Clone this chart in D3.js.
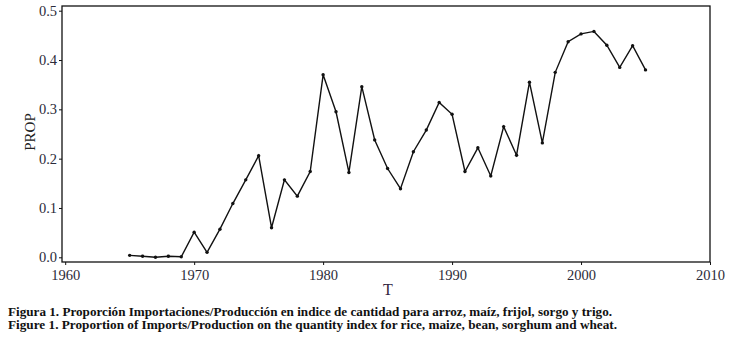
<!DOCTYPE html>
<html>
<head>
<meta charset="utf-8">
<script src="https://cdn.jsdelivr.net/npm/d3@7"></script>
<style>
    body { margin: 0; background: #fff; }
    svg text { font-family: "Liberation Serif", "DejaVu Serif", serif; }
</style>
</head>
<body>
<div id="chart"></div>
<script>
// years and import/production proportion
let years = [1965, 1966, 1967, 1968, 1969, 1970, 1971, 1972, 1973, 1974,
    1975, 1976, 1977, 1978, 1979, 1980, 1981, 1982, 1983, 1984,
    1985, 1986, 1987, 1988, 1989, 1990, 1991, 1992, 1993, 1994,
    1995, 1996, 1997, 1998, 1999, 2000, 2001, 2002, 2003, 2004, 2005];
let prop = [0.004, 0.002, 0.000, 0.002, 0.001, 0.051, 0.010, 0.057, 0.109, 0.157,
    0.206, 0.060, 0.157, 0.124, 0.174, 0.370, 0.295, 0.172, 0.346, 0.238,
    0.180, 0.139, 0.214, 0.258, 0.314, 0.290, 0.174, 0.222, 0.165, 0.265,
    0.207, 0.355, 0.232, 0.375, 0.437, 0.453, 0.458, 0.430, 0.385, 0.429, 0.380];
let xTicks = [1960, 1970, 1980, 1990, 2000, 2010];
let yTicks = [0.0, 0.1, 0.2, 0.3, 0.4, 0.5];
let captions = [
    "Figura 1. Proporción Importaciones/Producción en indice de cantidad para arroz, maíz, frijol, sorgo y trigo.",
    "Figure 1. Proportion of Imports/Production on the quantity index for rice, maize, bean, sorghum and wheat."
];
let captionWidths = [604, 609];

let margin = {"top": 6, "left": 62, "right": 20, "bottom": 83};
let width = 730 - margin.left - margin.right;
let height = 345 - margin.top - margin.bottom;

let root = d3.select("#chart").append("svg")
    .attr("width", 730)
    .attr("height", 345);

let svg = root.append("g")
    .attr("transform", "translate(" + margin.left + "," + margin.top + ")");

let x = d3.scaleLinear()
    .domain([1960, 2010])
    .range([3.2, width]);
let y = d3.scaleLinear()
    .domain([0, 0.5])
    .range([251.3, 4.7]);

// frame
svg.append("rect")
    .attr("width", width)
    .attr("height", height)
    .style("fill", "none")
    .style("stroke", "#111")
    .style("stroke-width", 1.3);

let xAxis = svg.append("g")
    .attr("transform", "translate(0," + height + ")")
    .call(d3.axisBottom(x).tickValues(xTicks).tickFormat(d3.format("d")).tickSize(3).tickSizeOuter(0));
let yAxis = svg.append("g")
    .call(d3.axisLeft(y).tickValues(yTicks).tickFormat(d3.format(".1f")).tickSize(3).tickSizeOuter(0));

[xAxis, yAxis].forEach(function(a) {
    a.select(".domain").remove();
    a.selectAll("line").style("stroke", "#111");
    a.selectAll("text")
        .style("font-family", "'Liberation Serif', serif")
        .style("font-size", "14.5px")
        .style("fill", "#2b2b3a");
});
xAxis.selectAll("text").attr("dy", "0.85em");
yAxis.selectAll("text").attr("x", -5);

svg.append("text")
    .attr("text-anchor", "middle")
    .attr("x", 326)
    .attr("y", 289)
    .style("font-size", "16px")
    .style("fill", "#33263f")
    .text("T");

svg.append("text")
    .attr("text-anchor", "middle")
    .attr("transform", "translate(-27,126) rotate(-90)")
    .style("font-size", "15px")
    .style("fill", "#222")
    .text("PROP");

let line = d3.line()
    .x((d, i) => x(years[i]))
    .y(d => y(d));

svg.append("path")
    .datum(prop)
    .attr("d", line)
    .style("fill", "none")
    .style("stroke", "#111")
    .style("stroke-width", 1.4);

svg.selectAll("circle.pt")
    .data(prop)
    .enter()
    .append("circle")
    .attr("class", "pt")
    .attr("cx", (d, i) => x(years[i]))
    .attr("cy", d => y(d))
    .attr("r", 1.7)
    .style("fill", "#111");

root.selectAll("text.caption")
    .data(captions)
    .enter()
    .append("text")
    .attr("class", "caption")
    .attr("x", 8)
    .attr("y", (d, i) => 316 + i * 13)
    .attr("textLength", (d, i) => captionWidths[i])
    .attr("lengthAdjust", "spacingAndGlyphs")
    .style("font-size", "12.5px")
    .style("font-weight", "bold")
    .style("fill", "#111")
    .text(d => d);
</script>
</body>
</html>
